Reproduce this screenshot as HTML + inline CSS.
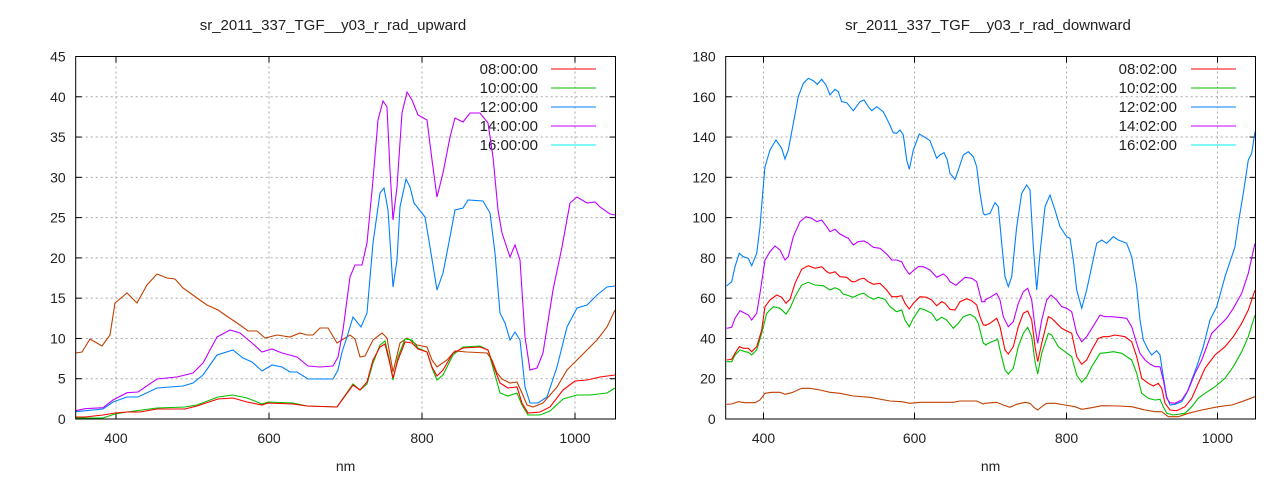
<!DOCTYPE html>
<html><head><meta charset="utf-8"><style>
body{margin:0;background:#fff;}
svg text{font-family:"Liberation Sans",sans-serif;fill:#222;}
</style></head><body>
<svg id="s" width="1280" height="480" xmlns="http://www.w3.org/2000/svg"></svg>
<script>
var s=document.getElementById('s');var h='';
function pl(pts,c){h+='<polyline fill="none" stroke="'+c+'" stroke-width="1.1" points="'+pts.map(function(p){return p[0].toFixed(1)+','+p[1].toFixed(1)}).join(' ')+'"/>';}
function z(a,ox,oy){return a.map(function(p){return [ox+p[0]/3,oy+p[1]/3];});}
function axes(x0,x1,yt,yb,yl,xt,xl,title,tc,leg,textEnd,lx0,lx1){
 for(var i=1;i<yl.length;i++){var y=yb-(yb-yt)*i/(yl.length-1);
  h+='<line x1="'+x0+'" x2="'+x1+'" y1="'+y+'" y2="'+y+'" stroke="#a8a8a8" stroke-dasharray="2,3"/>';}
 for(var i=0;i<xt.length;i++){h+='<line x1="'+xt[i]+'" x2="'+xt[i]+'" y1="'+yt+'" y2="'+yb+'" stroke="#a8a8a8" stroke-dasharray="2,3"/>';}
 for(var i=0;i<yl.length;i++){var y=yb-(yb-yt)*i/(yl.length-1);
  h+='<text x="'+(x0-10)+'" y="'+(y+5)+'" font-size="14" text-anchor="end">'+yl[i]+'</text>';
  h+='<line x1="'+x0+'" x2="'+(x0+6)+'" y1="'+y+'" y2="'+y+'" stroke="#000"/><line x1="'+(x1-6)+'" x2="'+x1+'" y1="'+y+'" y2="'+y+'" stroke="#000"/>';}
 for(var i=0;i<xt.length;i++){h+='<text x="'+xt[i]+'" y="'+(yb+24)+'" font-size="14" text-anchor="middle">'+xl[i]+'</text>';
  h+='<line x1="'+xt[i]+'" x2="'+xt[i]+'" y1="'+yb+'" y2="'+(yb-6)+'" stroke="#000"/><line x1="'+xt[i]+'" x2="'+xt[i]+'" y1="'+yt+'" y2="'+(yt+6)+'" stroke="#000"/>';}
 h+='<text x="'+((x0+x1)/2)+'" y="'+(yb+52)+'" font-size="14" text-anchor="middle">nm</text>';
 h+='<text x="'+tc+'" y="30" font-size="15" text-anchor="middle">'+title+'</text>';
 var cols=['#ff0000','#00c000','#0080ff','#c000ff','#00eeee'];
 for(var i=0;i<5;i++){var y=69+19*i;
  h+='<text x="'+textEnd+'" y="'+(y+5)+'" font-size="15" text-anchor="end">'+leg[i]+'</text>';
  h+='<line x1="'+lx0+'" x2="'+lx1+'" y1="'+y+'" y2="'+y+'" stroke="'+cols[i]+'" stroke-width="1.1"/>';}
}
axes(75.7,615.5,56.5,419,['0','5','10','15','20','25','30','35','40','45'],[116,269,422,575],['400','600','800','1000'],'sr_2011_337_TGF__y03_r_rad_upward',333,['08:00:00','10:00:00','12:00:00','14:00:00','16:00:00'],538,551,596);
axes(725.7,1255.5,56.5,419,['0','20','40','60','80','100','120','140','160','180'],[763.5,914.5,1066.5,1217.5],['400','600','800','1000'],'sr_2011_337_TGF__y03_r_rad_downward',988,['08:02:00','10:02:00','12:02:00','14:02:00','16:02:00'],1177,1191,1236);

pl([[75.7,353],[82,352],[90,339],[102,346],[110,335],[115,303],[127,293],[137,303],[147,285],[157,274],[167,278],[175,279],[183,288],[197,298],[207,305],[218,310],[228,317],[240,325],[248,331],[257,331],[265,338],[277,335],[290,337],[300,333],[307,335],[313,335],[320,328],[328,328],[337,343],[350,335],[355,339],[360,357],[365,356],[373,340],[382,333],[387,338],[393,372],[400,343],[407,338],[417,345],[427,347],[432,360],[437,367],[447,360],[455,351],[467,352],[487,353],[492,360],[497,373],[502,379],[510,383],[517,382],[522,393],[527,405],[533,407],[543,403],[557,387],[567,370],[577,360],[587,350],[597,340],[607,327],[615,310]],'#c04000');
pl([[75.7,418],[103,418],[115,414],[127,412],[157,408],[185,407],[197,405],[218,397],[233,395],[247,398],[262,404],[268,402],[293,403],[307,406],[337,407],[353,384],[360,390],[367,384],[373,363],[380,345],[385,341],[389,358],[393,380],[398,357],[405,339],[412,340],[418,348],[427,352],[432,368],[437,380],[443,375],[453,355],[463,347],[480,346],[488,350],[495,375],[500,393],[508,396],[517,393],[522,405],[528,415],[540,415],[550,411],[563,399],[577,395],[590,395],[607,393],[615,388]],'#00c000');
pl([[75.7,417],[85,417],[103,415],[115,413],[127,412],[140,412],[157,409],[185,409],[197,406],[218,399],[233,398],[247,402],[262,405],[268,403],[293,404],[307,406],[337,407],[353,385],[360,390],[367,382],[373,360],[380,347],[385,344],[389,360],[393,378],[398,360],[405,342],[412,343],[418,349],[427,352],[432,367],[437,376],[443,370],[453,353],[463,348],[480,347],[488,350],[495,370],[500,383],[508,388],[517,387],[522,403],[528,413],[540,412],[550,407],[563,390],[575,381],[587,380],[600,377],[615,375]],'#ff0000');
pl([[75.7,411.7],[103,409],[113,402],[127,397],[138,397],[157,388],[183,386],[193,383],[203,375],[217,355],[233,350],[243,358],[252,362],[262,371],[272,365],[282,367],[290,372],[297,372],[308,379],[333,379],[338,370],[342,352],[347,337],[353,317],[361,327],[367,313],[373,243],[380,193],[384,188],[388,210],[393,287],[397,260],[400,207],[406,179],[410,187],[414,203],[425,217],[430,247],[437,290],[443,273],[450,237],[455,210],[463,208],[468,200],[483,201],[490,213],[495,253],[500,313],[505,323],[510,340],[515,332],[520,340],[525,387],[530,403],[538,403],[547,397],[557,367],[567,327],[577,308],[587,305],[597,295],[607,287],[615,286]],'#0080ff');
pl([[75.7,410.7],[85,408.7],[103,407.7],[113,400],[127,392.7],[138,392],[157,379],[177,377],[193,373],[203,363],[217,337],[230,330],[240,333],[252,343],[262,352],[272,349],[282,353],[297,357],[308,366],[320,367],[333,366],[338,357],[343,330],[350,277],[355,265],[362,265],[367,243],[373,180],[378,120],[383,101],[387,107],[390,170],[393,220],[397,187],[402,113],[407,92],[412,100],[418,115],[427,120],[432,160],[437,197],[443,173],[450,137],[455,118],[463,122],[470,113],[480,113],[488,123],[493,157],[498,210],[502,233],[510,257],[515,245],[520,260],[525,337],[530,370],[537,368],[543,353],[553,290],[562,247],[570,203],[577,197],[587,203],[595,202],[600,207],[610,214],[615,215]],'#c000ff');

function two(a,b){return z(a,720,60).concat(z(b,985,60));}
pl(two([[20,1033],[35,1032],[55,1025],[75,1028],[105,1028],[120,1020],[135,1000],[155,997],[180,997],[195,1003],[215,998],[245,985],[270,985],[300,990],[330,997],[360,1000],[400,1008],[450,1012],[510,1023],[545,1025],[570,1030],[600,1027],[700,1027],[720,1023],[770,1023],[790,1032]],[[0,1030],[35,1027],[55,1035],[75,1042],[95,1033],[120,1027],[135,1030],[148,1043],[158,1050],[170,1040],[185,1030],[210,1030],[240,1035],[270,1040],[290,1048],[320,1043],[350,1037],[400,1038],[440,1040],[480,1050],[510,1055],[530,1055],[550,1070],[580,1070],[610,1060],[650,1050],[700,1040],[740,1035],[770,1025],[810,1010]]),'#c04000');
pl(two([[20,905],[35,905],[45,885],[60,870],[75,875],[85,877],[95,885],[110,870],[125,820],[140,760],[160,740],[180,745],[198,762],[210,745],[225,710],[245,675],[265,667],[285,675],[310,677],[330,690],[345,683],[360,690],[370,703],[380,705],[400,712],[420,702],[432,700],[445,710],[460,718],[475,712],[495,718],[510,740],[530,755],[545,750],[555,780],[568,800],[580,775],[600,745],[615,750],[635,760],[650,782],[665,772],[680,780],[700,805],[715,790],[730,770],[750,763],[765,772],[775,790],[790,850],[800,855]],[[0,855],[20,845],[38,838],[45,870],[60,930],[70,942],[85,925],[100,860],[115,820],[128,802],[140,830],[150,905],[158,942],[170,880],[190,820],[200,825],[220,860],[240,875],[260,890],[275,945],[290,967],[305,950],[320,920],[345,880],[365,878],[385,875],[410,880],[440,900],[455,940],[470,1000],[490,1015],[510,1020],[525,1018],[535,1040],[545,1060],[565,1065],[600,1060],[620,1040],[640,1015],[660,1000],[690,980],[720,955],[745,920],[770,875],[790,830],[810,765]]),'#00c000');
pl(two([[20,900],[35,898],[45,880],[58,860],[70,865],[85,865],[95,875],[110,860],[125,810],[135,740],[150,720],[170,705],[185,712],[198,730],[210,718],[225,670],[245,628],[265,617],[285,625],[305,620],[320,635],[330,640],[345,635],[360,650],[380,652],[395,665],[405,665],[420,657],[432,655],[445,665],[460,673],[480,670],[500,690],[515,710],[530,710],[545,707],[555,730],[568,747],[580,730],[600,710],[620,712],[635,720],[650,737],[665,725],[675,730],[690,748],[705,750],[720,725],[740,716],[755,722],[770,735],[780,770],[790,795],[800,795]],[[0,797],[15,790],[35,775],[45,800],[60,870],[70,882],[85,860],[100,800],[115,760],[128,753],[140,780],[150,860],[158,905],[170,850],[190,770],[200,775],[215,790],[230,805],[250,815],[260,820],[275,890],[290,913],[305,900],[320,870],[340,835],[355,830],[370,830],[390,825],[420,830],[440,845],[455,890],[470,955],[490,970],[505,978],[520,970],[530,985],[540,1030],[555,1050],[575,1052],[600,1040],[620,1015],[640,970],[660,925],[690,885],[720,860],[745,830],[770,790],[790,750],[810,690]]),'#ff0000');
pl(two([[20,678],[35,665],[45,620],[58,580],[70,590],[85,595],[95,617],[110,580],[120,500],[128,400],[135,320],[150,270],[168,240],[185,265],[195,297],[205,270],[218,200],[235,110],[250,70],[265,55],[280,62],[292,73],[305,58],[318,75],[330,105],[345,88],[355,95],[365,125],[380,128],[390,140],[400,152],[420,125],[432,120],[445,140],[455,152],[470,140],[490,155],[505,185],[520,218],[530,220],[540,210],[550,225],[560,300],[568,328],[580,270],[598,222],[612,230],[630,242],[650,295],[660,285],[672,278],[682,300],[690,340],[705,358],[715,330],[730,285],[745,275],[760,290],[770,320],[780,400],[790,460]],[[0,465],[15,460],[30,428],[40,440],[50,550],[60,650],[70,680],[80,650],[95,500],[110,400],[125,375],[135,390],[145,560],[155,690],[165,580],[180,440],[195,405],[210,450],[225,500],[245,530],[255,535],[265,600],[275,690],[290,745],[305,690],[320,620],[335,550],[350,540],[365,550],[385,530],[400,540],[425,550],[440,590],[455,680],[465,780],[475,840],[490,870],[500,885],[515,872],[525,885],[535,950],[545,1010],[555,1035],[570,1033],[590,1025],[605,1000],[620,960],[635,920],[655,860],[675,780],[695,740],[705,705],[720,650],[740,590],[750,560],[760,490],[775,400],[790,300],[800,280],[810,215]]),'#0080ff');
pl(two([[20,805],[35,802],[45,775],[60,752],[75,760],[85,765],[95,780],[110,760],[120,700],[135,600],[150,575],[165,558],[180,570],[195,600],[205,590],[220,530],[240,485],[258,470],[275,475],[290,485],[305,480],[320,500],[330,515],[345,508],[360,522],[375,530],[385,535],[400,555],[415,545],[432,543],[445,550],[460,562],[480,565],[500,582],[515,600],[530,600],[545,605],[555,625],[568,643],[580,632],[595,620],[610,620],[630,630],[650,652],[670,642],[680,650],[690,665],[708,676],[720,665],[735,652],[755,655],[770,665],[785,725],[795,725]],[[0,720],[15,712],[35,700],[45,720],[55,770],[70,800],[85,785],[100,730],[115,695],[128,685],[140,720],[150,800],[158,850],[170,780],[185,720],[198,705],[215,720],[230,740],[245,745],[260,755],[275,820],[290,845],[305,830],[330,790],[345,765],[360,770],[380,770],[400,772],[425,775],[440,800],[455,850],[465,880],[480,900],[495,912],[510,920],[525,920],[535,960],[545,1015],[555,1028],[570,1030],[590,1020],[610,990],[630,940],[650,900],[680,820],[700,800],[725,775],[745,745],[770,700],[790,640],[810,550]]),'#c000ff');

h+='<rect x="75.7" y="56.5" width="539.8" height="362.5" fill="none" stroke="#000"/>';
h+='<rect x="725.7" y="56.5" width="529.8" height="362.5" fill="none" stroke="#000"/>';
s.innerHTML=h;
</script>
</body></html>
